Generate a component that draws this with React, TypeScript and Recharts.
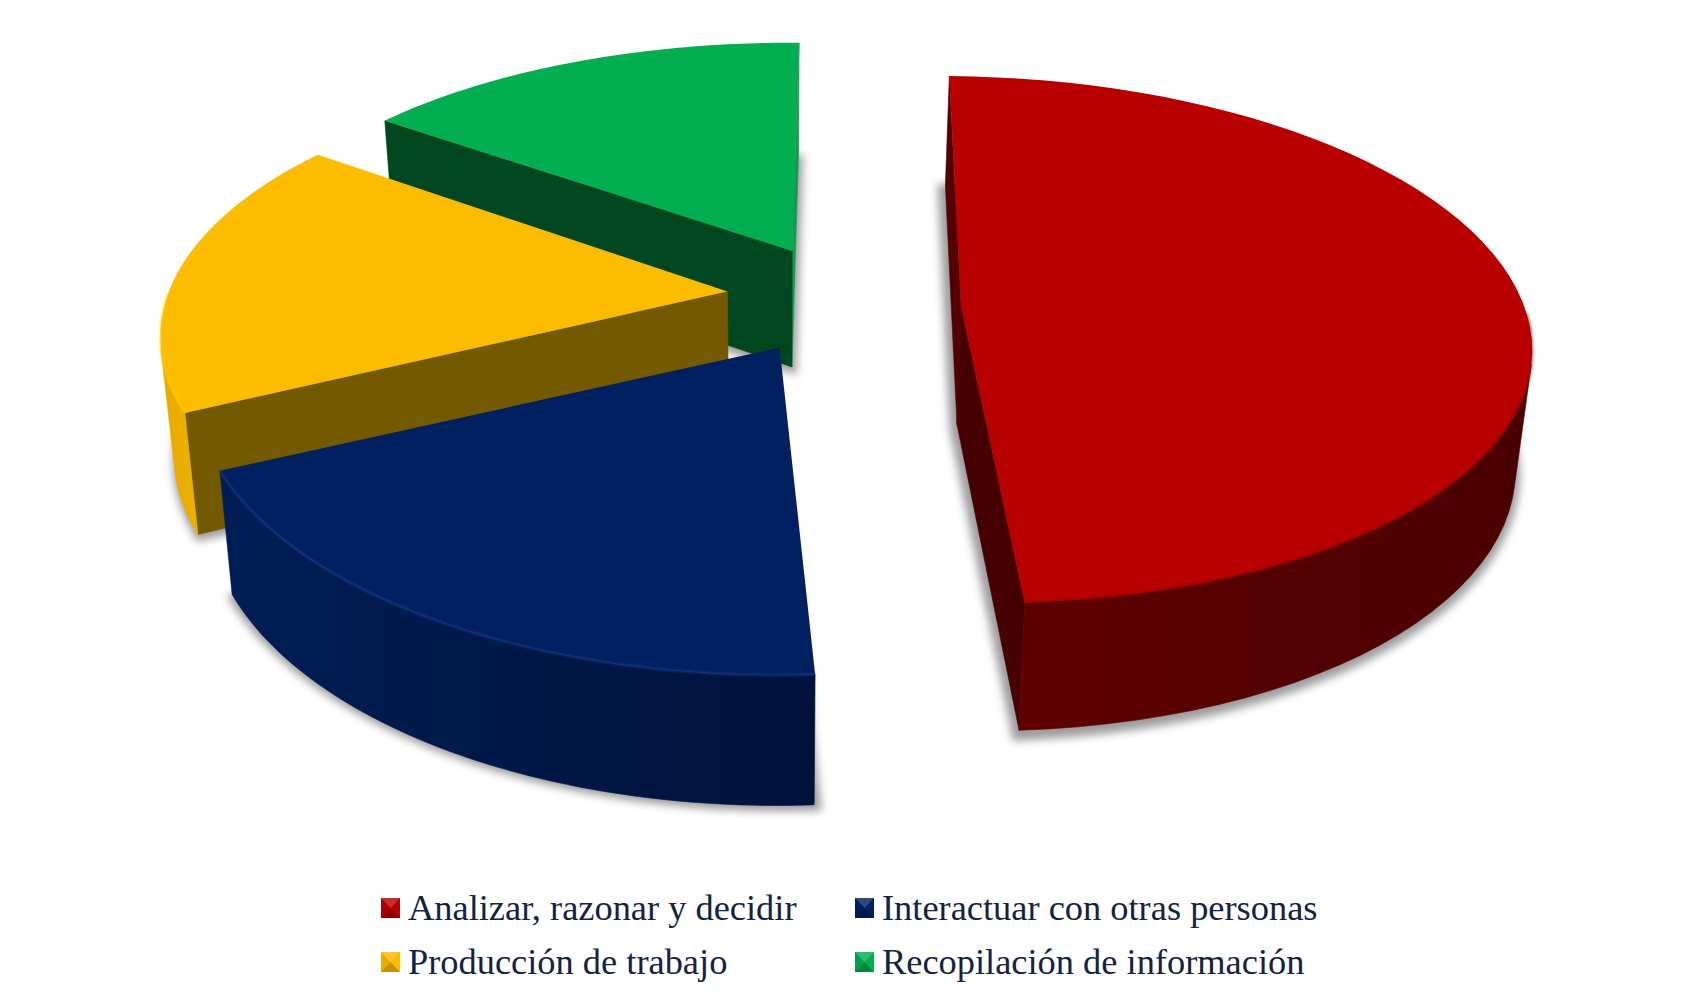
import { PieChart, Pie, Legend } from 'recharts'

const categories = [
  'Analizar, razonar y decidir',
  'Interactuar con otras personas',
  'Producción de trabajo',
  'Recopilación de información',
]
const shares = [48.8, 19.2, 17.2, 14.8]

const topColors = ['#b90000', '#002060', '#fcbc00', '#03ae50']
const startWallColors = ['#470000', '#001a4d', '#735a00', '#0f9c4c']
const endWallColors = ['#550000', '#001a4d', '#735a00', '#00471f']
const rimLeftColors = ['#620000', '#001d55', '#e6aa00', '#00471f']
const rimRightColors = ['#4a0000', '#00123a', '#ffc800', '#00471f']
const edgeColors = ['#8a0000', '#1c3f92', '#ffd000', '#03ae50']

// fine placement of each exploded slice, same order as categories
const nudgeX = [-5, -7, -3, -4]
const nudgeY = [5, -3, -5, -4]
const stretchX = [1, 1, 1, 1]
const stretchY = [1, 1.045, 1, 0.97]
const rimShiftX = [0, -4, 0, 0]
const rimDropY = [0, 0, 10, 7]

// pie is drawn back to front, so the table runs the other way round
const pieData = categories
  .map((name, i) => ({ name, value: shares[i], colorIndex: i }))
  .reverse()

const RADIUS = 565
const EXPLODE = 0.21 * RADIUS
const PERSPECTIVE = 0.1245
const HORIZON = 2096
const VANISH_X = 780
const PLANE_Y = 308
const DEPTH = 118
const TAPER = 0.022

type Pt = { x: number; y: number; w: number }

const project = (px: number, py: number, r: number): Pt => {
  const w = 1 - (PERSPECTIVE * (py - PLANE_Y)) / r
  return {
    x: VANISH_X + (px - VANISH_X) / w,
    y: PLANE_Y + HORIZON * (1 / w - 1),
    w,
  }
}

const drop = (p: Pt): Pt => ({
  x: VANISH_X + (p.x - VANISH_X) * (1 - TAPER),
  y: p.y + DEPTH * Math.pow(p.w, -0.62),
  w: p.w,
})

const toPath = (pts: Pt[], close = true) =>
  pts.map((p, i) => `${i ? 'L' : 'M'}${p.x.toFixed(1)} ${p.y.toFixed(1)}`).join(' ') + (close ? ' Z' : '')

const quadArea = (a: Pt, b: Pt, c: Pt, d: Pt) => {
  const q = [a, b, c, d]
  return q.reduce((s, p, i) => {
    const n = q[(i + 1) % 4]
    return s + p.x * n.y - n.x * p.y
  }, 0)
}

function Slice3D(props: any) {
  const { cx, cy, outerRadius, startAngle, endAngle, payload, index } = props
  const ci = payload?.colorIndex ?? pieData[index].colorIndex
  const rad = Math.PI / 180
  const mid = ((startAngle + endAngle) / 2) * rad
  const ox = cx + EXPLODE * Math.cos(mid)
  const oy = cy - EXPLODE * Math.sin(mid)

  const steps = 64
  const rim: Pt[] = []
  for (let i = 0; i <= steps; i++) {
    const a = (startAngle + ((endAngle - startAngle) * i) / steps) * rad
    const p = project(
      ox + outerRadius * stretchX[ci] * Math.cos(a),
      oy - outerRadius * stretchY[ci] * Math.sin(a),
      outerRadius,
    )
    rim.push({ ...p, x: p.x + rimShiftX[ci], y: p.y + rimDropY[ci] })
  }
  const apex = project(ox, oy, outerRadius)
  const top = [apex, ...rim]
  const base = top.map(drop)

  // shadow: the base outline, a little larger and lower
  const bx = base.reduce((s, p) => s + p.x, 0) / base.length
  const by = base.reduce((s, p) => s + p.y, 0) / base.length
  const shadow = base.map((p) => ({
    x: bx + (p.x - bx) * 1.022,
    y: by + (p.y - by) * 1.022 + 4,
    w: p.w,
  }))

  const gradId = `rim-${ci}`
  const xs = rim.map((p) => p.x)
  const walls: { path: string; fill: string; y: number }[] = []

  // the visible part of the rim as one face, so no seams show
  const seen = rim.filter((p, i) => {
    const n = rim[i + 1] ?? p
    const b = rim[i - 1] ?? p
    return quadArea(p, n, drop(n), drop(p)) > 0 || quadArea(b, p, drop(p), drop(b)) > 0
  })
  if (seen.length > 1) {
    walls.push({
      path: toPath([...seen, ...[...seen].reverse().map(drop)]),
      fill: `url(#${gradId})`,
      y: seen.reduce((s, p) => s + p.y, 0) / seen.length,
    })
  }
  const first = rim[0]
  const last = rim[rim.length - 1]
  if (quadArea(apex, first, drop(first), drop(apex)) > 0) {
    walls.push({
      path: toPath([apex, first, drop(first), drop(apex)]),
      fill: startWallColors[ci],
      y: (apex.y + first.y) / 2,
    })
  }
  if (quadArea(last, apex, drop(apex), drop(last)) > 0) {
    walls.push({
      path: toPath([last, apex, drop(apex), drop(last)]),
      fill: endWallColors[ci],
      y: (apex.y + last.y) / 2,
    })
  }
  walls.sort((a, b) => a.y - b.y)

  return (
    <g transform={`translate(${nudgeX[ci]} ${nudgeY[ci]})`}>
      <defs>
        <linearGradient
          id={gradId}
          gradientUnits="userSpaceOnUse"
          x1={Math.min(...xs)}
          x2={Math.max(...xs)}
          y1={0}
          y2={0}
        >
          <stop offset="0" stopColor={rimLeftColors[ci]} />
          <stop offset="1" stopColor={rimRightColors[ci]} />
        </linearGradient>
        <filter id={`blur-${ci}`} x="-10%" y="-10%" width="120%" height="120%">
          <feGaussianBlur stdDeviation="4" />
        </filter>
        <filter id={`soft-${ci}`} x="-5%" y="-5%" width="110%" height="110%">
          <feGaussianBlur stdDeviation="1.2" />
        </filter>
      </defs>
      <path d={toPath(shadow)} fill="#7d7d7d" opacity={0.75} filter={`url(#blur-${ci})`} />
      {walls.map((f, i) => (
        <path key={i} d={f.path} fill={f.fill} stroke={f.fill} strokeWidth={0.6} />
      ))}
      <path d={toPath(top)} fill={topColors[ci]} />
      <path
        d={toPath(rim.filter((p) => p.y > apex.y), false)}
        fill="none"
        stroke={edgeColors[ci]}
        strokeWidth={2}
        opacity={0.7}
        filter={`url(#soft-${ci})`}
      />
    </g>
  )
}

function Swatch({ color }: { color: string }) {
  return (
    <svg width={19} height={20} style={{ display: 'block', flex: 'none' }}>
      <rect x={0} y={0} width={19} height={20} fill={color} />
      <polygon points="0,0 19,0 9.5,10" fill="#ffffff" opacity={0.18} />
      <polygon points="0,20 19,20 9.5,10" fill="#000000" opacity={0.22} />
      <polygon points="0,0 0,20 9.5,10" fill="#000000" opacity={0.08} />
    </svg>
  )
}

function LegendGrid({ payload }: any) {
  const rows = [...(payload ?? [])].sort(
    (a: any, b: any) => categories.indexOf(a.value) - categories.indexOf(b.value),
  )
  return (
    <div
      style={{
        display: 'grid',
        gridTemplateColumns: '474px 480px',
        fontFamily: '"Liberation Serif", serif',
        fontSize: 36.4,
        color: '#14233f',
      }}
    >
      {rows.map((row: any) => (
        <div key={row.value} style={{ display: 'flex', alignItems: 'center', height: 54 }}>
          <Swatch color={topColors[categories.indexOf(row.value)]} />
          <span style={{ marginLeft: 8, whiteSpace: 'nowrap' }}>{row.value}</span>
        </div>
      ))}
    </div>
  )
}

export default function App() {
  return (
    <div style={{ position: 'absolute', left: 0, top: 0, width: 1688, height: 1000, background: '#fff' }}>
      <PieChart width={1688} height={1000} margin={{ top: 0, right: 0, bottom: 0, left: 0 }}>
        <Pie
          data={pieData}
          dataKey="value"
          nameKey="name"
          cx={848}
          cy={297}
          outerRadius={RADIUS}
          startAngle={89}
          endAngle={449}
          stroke="none"
          isAnimationActive={false}
          shape={Slice3D}
          inactiveShape={Slice3D}
          activeShape={Slice3D}
        />
        <Legend
          content={<LegendGrid />}
          wrapperStyle={{ left: 381, top: 881, width: 960 }}
        />
      </PieChart>
    </div>
  )
}
